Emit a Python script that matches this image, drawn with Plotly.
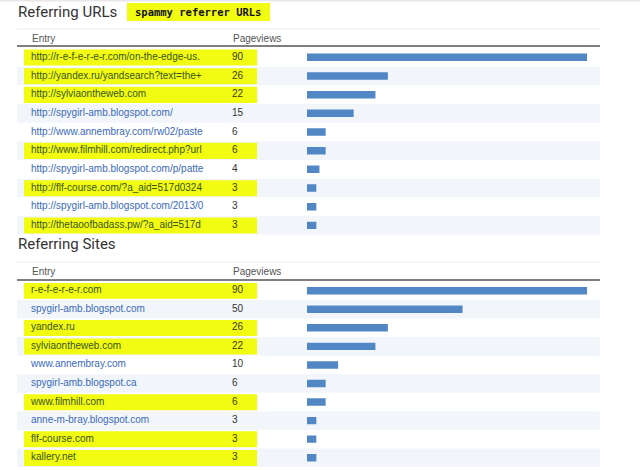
"""Blogger stats: referring URLs and referring sites, spammy entries marked in yellow."""

import plotly.graph_objects as go

W, H = 640, 470
OFF = 0  # page body margin is removed below, so the plot sits at the top-left corner

# --- data -------------------------------------------------------------------
url_entries = [
    "http://r-e-f-e-r-e-r.com/on-the-edge-us.",
    "http://yandex.ru/yandsearch?text=the+",
    "http://sylviaontheweb.com",
    "http://spygirl-amb.blogspot.com/",
    "http://www.annembray.com/rw02/paste",
    "http://www.filmhill.com/redirect.php?url",
    "http://spygirl-amb.blogspot.com/p/patte",
    "http://flf-course.com/?a_aid=517d0324",
    "http://spygirl-amb.blogspot.com/2013/0",
    "http://thetaoofbadass.pw/?a_aid=517d",
]
url_views = [90, 26, 22, 15, 6, 6, 4, 3, 3, 3]
url_spam = [True, True, True, False, False, True, False, True, False, True]

site_entries = [
    "r-e-f-e-r-e-r.com",
    "spygirl-amb.blogspot.com",
    "yandex.ru",
    "sylviaontheweb.com",
    "www.annembray.com",
    "spygirl-amb.blogspot.ca",
    "www.filmhill.com",
    "anne-m-bray.blogspot.com",
    "flf-course.com",
    "kallery.net",
]
site_views = [90, 50, 26, 22, 10, 6, 6, 3, 3, 3]
site_spam = [True, False, True, True, False, False, True, False, True, True]

# --- style ------------------------------------------------------------------
YELLOW = "#f2fc12"
BAND = "#f2f6fb"
BAR = "#5187c4"
LINK = "#3a69b8"
LINK_ON_YELLOW = "#3a5418"
NUM = "#333333"
FONT = "Liberation Sans, Arial, sans-serif"

ENTRY_X = 31
ENTRY_CLIP = 207
VIEWS_X = 232
TABLE_X0, TABLE_X1 = 17, 600
HL_X0, HL_X1 = 24, 257
ROW_TOP = (48.0, 281.4)
ROW_H = (18.67, 18.56)


def py(y):
    return 1 - (y - OFF) / H


def px(x):
    return (x - OFF) / W


fig = go.Figure()


def add_table(entries, views, spam, yref, yhead_faint, yhead, yhead_line):
    n = len(entries)
    rows = list(range(n))
    colors = [LINK_ON_YELLOW if s else LINK for s in spam]
    ncolors = ["#3a3a10" if s else NUM for s in spam]

    # alternating row bands and spam highlights
    for i in rows:
        if i % 2 == 1:
            fig.add_shape(type="rect", xref="x", yref=yref, x0=TABLE_X0, x1=TABLE_X1,
                          y0=i - 0.5, y1=i + 0.5, fillcolor=BAND, line_width=0,
                          layer="below")
        if spam[i]:
            fig.add_shape(type="rect", xref="x", yref=yref, x0=HL_X0, x1=HL_X1,
                          y0=i - 0.42, y1=i + 0.44, fillcolor=YELLOW, line_width=0,
                          layer="below")

    fig.add_trace(go.Bar(
        x=views, y=rows, orientation="h", xaxis="x2", yaxis=yref,
        marker_color=BAR, marker_line_width=0, width=0.4,
        hovertemplate="%{x}<extra></extra>",
    ))
    fig.add_trace(go.Scatter(
        x=[ENTRY_X] * n, y=rows, mode="text", text=entries, xaxis="x3", yaxis=yref,
        textposition="middle right", cliponaxis=True,
        textfont=dict(family=FONT, size=10, color=colors), hoverinfo="skip",
    ))
    fig.add_trace(go.Scatter(
        x=[VIEWS_X] * n, y=rows, mode="text", text=[str(v) for v in views],
        xaxis="x", yaxis=yref, textposition="middle right",
        textfont=dict(family=FONT, size=10, color=ncolors), hoverinfo="skip",
    ))

    # header labels and rules
    fig.add_shape(type="line", xref="paper", yref="paper", x0=px(TABLE_X0), x1=px(TABLE_X1),
                  y0=py(yhead_faint), y1=py(yhead_faint), line=dict(color="#ececec", width=1))
    fig.add_shape(type="line", xref="paper", yref="paper", x0=px(TABLE_X0), x1=px(TABLE_X1),
                  y0=py(yhead_line), y1=py(yhead_line), line=dict(color="#555555", width=1.5))
    for label, x in (("Entry", ENTRY_X - 1), ("Pageviews", VIEWS_X - 1)):
        fig.add_annotation(x=px(x), y=py(yhead), xref="paper", yref="paper", text=label,
                           showarrow=False, xanchor="left", yanchor="middle",
                           font=dict(family=FONT, size=10, color="#555555"))


add_table(url_entries, url_views, url_spam, "y", 29, 38, 46)
add_table(site_entries, site_views, site_spam, "y2", 262, 271, 280)

for text, y in (("Referring URLs", 12), ("Referring Sites", 244)):
    fig.add_annotation(x=px(16), y=py(y), xref="paper", yref="paper", text=text,
                       showarrow=False, xanchor="left", yanchor="middle",
                       font=dict(family="Roboto, sans-serif", size=15, color="#333333"))

# the hand-added marker label
fig.add_shape(type="rect", xref="paper", yref="paper", x0=px(127), x1=px(270),
              y0=py(21), y1=py(3), fillcolor=YELLOW, line_width=0)
fig.add_annotation(x=px(198), y=py(12), xref="paper", yref="paper",
                   text="<b>spammy referrer URLs</b>", showarrow=False,
                   xanchor="center", yanchor="middle",
                   font=dict(family="DejaVu Sans Mono, monospace", size=10.5, color="#111111"))

# faint shadow along the top edge
fig.add_shape(type="line", xref="paper", yref="paper", x0=0, x1=1, y0=py(0.5), y1=py(0.5),
              line=dict(color="#e8e8e8", width=2))

vmax = max(max(url_views), max(site_views))
hidden = dict(visible=False, showgrid=False, zeroline=False, fixedrange=True)
fig.update_layout(
    width=W, height=H,
    margin=dict(l=0, r=0, t=0, b=0),
    paper_bgcolor="white", plot_bgcolor="rgba(0,0,0,0)",
    showlegend=False,
    barmode="overlay",
    xaxis=dict(hidden, domain=[0, 1], range=[OFF, W + OFF]),
    xaxis2=dict(hidden, domain=[px(307), px(587)], range=[0, vmax], anchor="y"),
    xaxis3=dict(hidden, domain=[0, px(ENTRY_CLIP)], range=[OFF, ENTRY_CLIP], anchor="y"),
    yaxis=dict(hidden, domain=[py(ROW_TOP[0] + 10 * ROW_H[0]), py(ROW_TOP[0])],
               range=[len(url_views) - 0.5, -0.5]),
    yaxis2=dict(hidden, domain=[py(ROW_TOP[1] + 10 * ROW_H[1]), py(ROW_TOP[1])],
                range=[len(site_views) - 0.5, -0.5]),
)

fig.write_html("out.html", config={"displayModeBar": False},
               post_script="document.body.style.margin = '0';")
